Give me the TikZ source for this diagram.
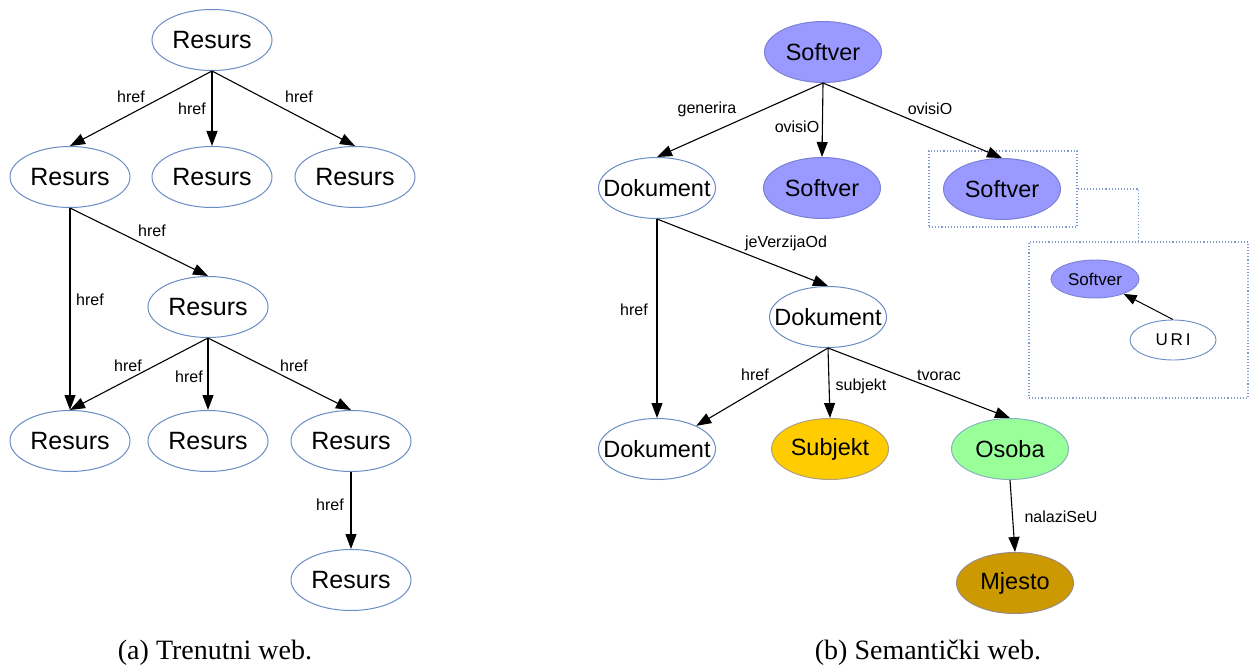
\documentclass[tikz,border=0pt]{standalone}
\usepackage{fontspec}
\setmainfont{Liberation Sans}
\newfontfamily\capfont{Liberation Serif}
\usetikzlibrary{shapes.geometric,arrows.meta}
\definecolor{nodeline}{HTML}{6A8CC4}
\definecolor{softfill}{HTML}{9999FF}
\definecolor{softline}{HTML}{7B82D6}
\definecolor{subjfill}{HTML}{FFCC00}
\definecolor{osobafill}{HTML}{99FF99}
\definecolor{mjestofill}{HTML}{CC9900}
\definecolor{boxline}{HTML}{7F9CCB}
\newcommand{\zw}[1]{\makebox[0pt]{#1}}
\begin{document}
\begin{tikzpicture}[x=1pt,y=-1pt,
  nd/.style={ellipse, draw=nodeline, line width=1pt, fill=white, minimum width=120pt, minimum height=61pt, inner sep=0pt, font=\fontsize{25}{25}\selectfont},
  dnd/.style={nd, minimum width=117pt, font=\fontsize{23.5}{24}\selectfont},
  snd/.style={dnd, fill=softfill, draw=softline},
  small/.style={ellipse, draw=nodeline, line width=0.9pt, fill=white, minimum width=88pt, minimum height=38pt, inner sep=0pt, font=\fontsize{17}{17}\selectfont},
  lab/.style={inner sep=0pt, font=\fontsize{16}{16}\selectfont},
  arr/.style={-{Triangle[length=15pt,width=11pt]}, line width=1.1pt},
  sarr/.style={-{Triangle[length=13pt,width=10pt]}, line width=1pt},
  dbox/.style={draw=boxline, dotted, line width=1.1pt, inner sep=0pt},
  captxt/.style={inner sep=0pt, font=\capfont\fontsize{28}{28}\selectfont}
]
\useasboundingbox (0,0) rectangle (1250,666);

% ---------- (a) ----------
\node[nd] (r0) at (212,40) {Resurs};
\node[nd] (r1) at (70,177) {Resurs};
\node[nd] (r2) at (212,177) {Resurs};
\node[nd] (r3) at (355,177) {Resurs};
\node[nd] (r4) at (208,307) {Resurs};
\node[nd] (r5) at (70,441) {Resurs};
\node[nd] (r6) at (208,441) {Resurs};
\node[nd] (r7) at (351,441) {Resurs};
\node[nd] (r8) at (351,580) {Resurs};

\draw[arr] (r0.south) -- (r1.north);
\draw[arr] (r0.south) -- (r2.north);
\draw[arr] (r0.south) -- (r3.north);
\draw[arr] (r1.south) -- (r4.north);
\draw[arr] (r1.south) -- (r5.north);
\draw[arr] (r4.south) -- (r5.north);
\draw[arr] (r4.south) -- (r6.north);
\draw[arr] (r4.south) -- (r7.north);
\draw[arr] (r7.south) -- (r8.north);

\node[lab] (la1) at (131,97) {href};
\node[lab] (la2) at (192,109) {href};
\node[lab] (la3) at (299,97) {href};
\node[lab] (la4) at (152,231) {href};
\node[lab] (la5) at (90,300) {href};
\node[lab] (la6) at (128,366) {href};
\node[lab] (la7) at (189,377) {href};
\node[lab] (la8) at (294,366) {href};
\node[lab] (la9) at (330,505) {href};

\node[captxt] (capa) at (215,653) {(a) Trenutni web.};

% ---------- (b) ----------
\node[snd] (s0) at (823,52) {Softver};
\node[dnd] (d1) at (657,188) {\zw{Dokument}};
\node[snd] (s1) at (822,188) {Softver};
\node[snd] (s2) at (1002,189) {Softver};
\node[dnd] (d2) at (828,317) {\zw{Dokument}};
\node[dnd] (d3) at (657,449) {\zw{Dokument}};
\node[dnd, fill=subjfill, draw=softline!60!subjfill] (sub) at (830,449) {Subjekt};
\node[dnd, fill=osobafill, draw=softline!60!osobafill] (os) at (1010,449) {Osoba};
\node[dnd, fill=mjestofill, draw=softline!60!mjestofill] (mj) at (1015,583) {Mjesto};

\node[dbox, minimum width=148pt, minimum height=76pt] (box1) at (1003,189) {};
\node[dbox, minimum width=219pt, minimum height=156pt] (box2) at (1138.5,320) {};
\draw[boxline, dotted, line width=1.1pt] (box1.east) -| (box2.north);

\node[small, fill=softfill, draw=softline] (ss) at (1095,279) {Softver};
\node[small, minimum width=86pt, minimum height=40pt] (uri) at (1173,340) {U\,R\,I};
\draw[sarr] (uri.north) -- (ss);

\draw[arr] (s0.south) -- (d1.north);
\draw[arr] (s0.south) -- (s1.north);
\draw[arr] (s0.south) -- (s2.north);
\draw[arr] (d1.south) -- (d2.north);
\draw[arr] (d1.south) -- (d3.north);
\draw[arr] (d2.south) -- (d3);
\draw[arr] (d2.south) -- (sub.north);
\draw[arr] (d2.south) -- (os.north);
\draw[arr] (os.south) -- (mj.north);

\node[lab] (lb1) at (707,109) {generira};
\node[lab] (lb2) at (797,127) {ovisiO};
\node[lab] (lb3) at (930,109) {ovisiO};
\node[lab] (lb4) at (786,243) {jeVerzijaOd};
\node[lab] (lb5) at (634,310) {href};
\node[lab] (lb6) at (755,375) {href};
\node[lab] (lb7) at (861,386) {subjekt};
\node[lab] (lb8) at (939,375) {tvorac};
\node[lab] (lb9) at (1061,517) {nalaziSeU};

\node[captxt] (capb) at (928,653) {(b) Semantički web.};
\end{tikzpicture}
\end{document}
